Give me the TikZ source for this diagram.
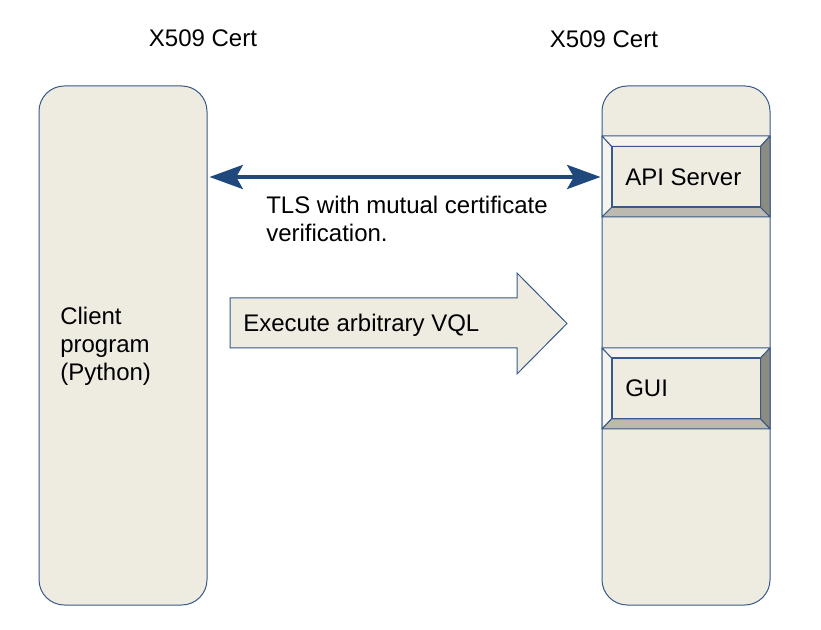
\documentclass[tikz,border=0pt]{standalone}
\usepackage{fontspec}
\setmainfont{Liberation Sans}
\usetikzlibrary{arrows.meta,calc}
\definecolor{boxfill}{RGB}{238,236,225}
\definecolor{boxbdr}{RGB}{56,89,137}
\definecolor{arrclr}{RGB}{31,73,125}
\definecolor{bvlight}{RGB}{245,244,239}
\definecolor{bvdark}{RGB}{140,139,128}
\definecolor{bvmid}{RGB}{188,186,176}
\definecolor{hdrclr}{RGB}{0,0,0}
\tikzset{
  hostbox/.style={rectangle,rounded corners=19pt,draw=boxbdr,fill=boxfill,
    line width=0.75pt,minimum width=126pt,minimum height=389.25pt,inner sep=0pt},
  innerbox/.style={rectangle,draw=boxbdr,fill=boxfill,line width=0.75pt,
    minimum width=111pt,minimum height=45pt,inner sep=0pt},
  bvface/.style={draw=boxbdr,line width=0.75pt,line join=round},
  txt/.style={font=\fontsize{18}{21}\selectfont,text=hdrclr,inner sep=0pt,align=left},
  tlsarr/.style={{Stealth[length=25pt,width=18pt,inset=5pt]}-{Stealth[length=25pt,width=18pt,inset=5pt]},
    line width=3pt,color=arrclr},
}

\begin{document}
\begin{tikzpicture}[x=0.75pt,y=-0.75pt]
  \useasboundingbox[fill=white] (0,0) rectangle (821,630);
  % hosts
  \node[hostbox] (client) at (123,345.5) {};
  \node[hostbox] (server) at (686,345.5) {};
  \node[txt] (certl) at (203,38) {X509 Cert};
  \node[txt] (certr) at (604,39) {X509 Cert};
  \node[txt,anchor=west] (clientlbl) at (60,346) {Client\\program\\(Python)};
  % API Server bevel
  \node[innerbox] (apisrv) at (686,177) {};
  \fill[bvlight,bvface] (602,136) -- (770,136) -- (apisrv.north east) -- (apisrv.north west) -- cycle;
  \fill[bvlight,bvface] (602,136) -- (apisrv.north west) -- (apisrv.south west) -- (602,217) -- cycle;
  \fill[bvdark,bvface] (770,136) -- (770,217) -- (apisrv.south east) -- (apisrv.north east) -- cycle;
  \fill[bvmid,bvface] (602,217) -- (770,217) -- (apisrv.south east) -- (apisrv.south west) -- cycle;
  \draw[bvface] (apisrv.north west) rectangle (apisrv.south east);
  \node[txt,anchor=west] (apilbl) at (625,177) {API Server};
  % GUI bevel
  \node[innerbox] (gui) at (686,388.5) {};
  \fill[bvlight,bvface] (602,348) -- (770,348) -- (gui.north east) -- (gui.north west) -- cycle;
  \fill[bvlight,bvface] (602,348) -- (gui.north west) -- (gui.south west) -- (602,429) -- cycle;
  \fill[bvdark,bvface] (770,348) -- (770,429) -- (gui.south east) -- (gui.north east) -- cycle;
  \fill[bvmid,bvface] (602,429) -- (770,429) -- (gui.south east) -- (gui.south west) -- cycle;
  \draw[bvface] (gui.north west) rectangle (gui.south east);
  \node[txt,anchor=west] (guilbl) at (625,388) {GUI};
  % TLS link
  \draw[tlsarr] ($(client.east |- apisrv)+(2,0)$) -- ($(apisrv.west)+(-11,0)$);
  \node[txt,anchor=west] (tlslbl) at (266,219) {TLS with mutual certificate\\verification.};
  % VQL block arrow
  \filldraw[fill=boxfill,draw=boxbdr,line width=0.75pt,line join=miter]
    (230,298) -- (517,298) -- (517,273) -- (567,323.5) -- (517,374) -- (517,348) -- (230,348) -- cycle;
  \node[txt,anchor=west] (vqllbl) at (243,325) {Execute arbitrary VQL};
\end{tikzpicture}
\end{document}
